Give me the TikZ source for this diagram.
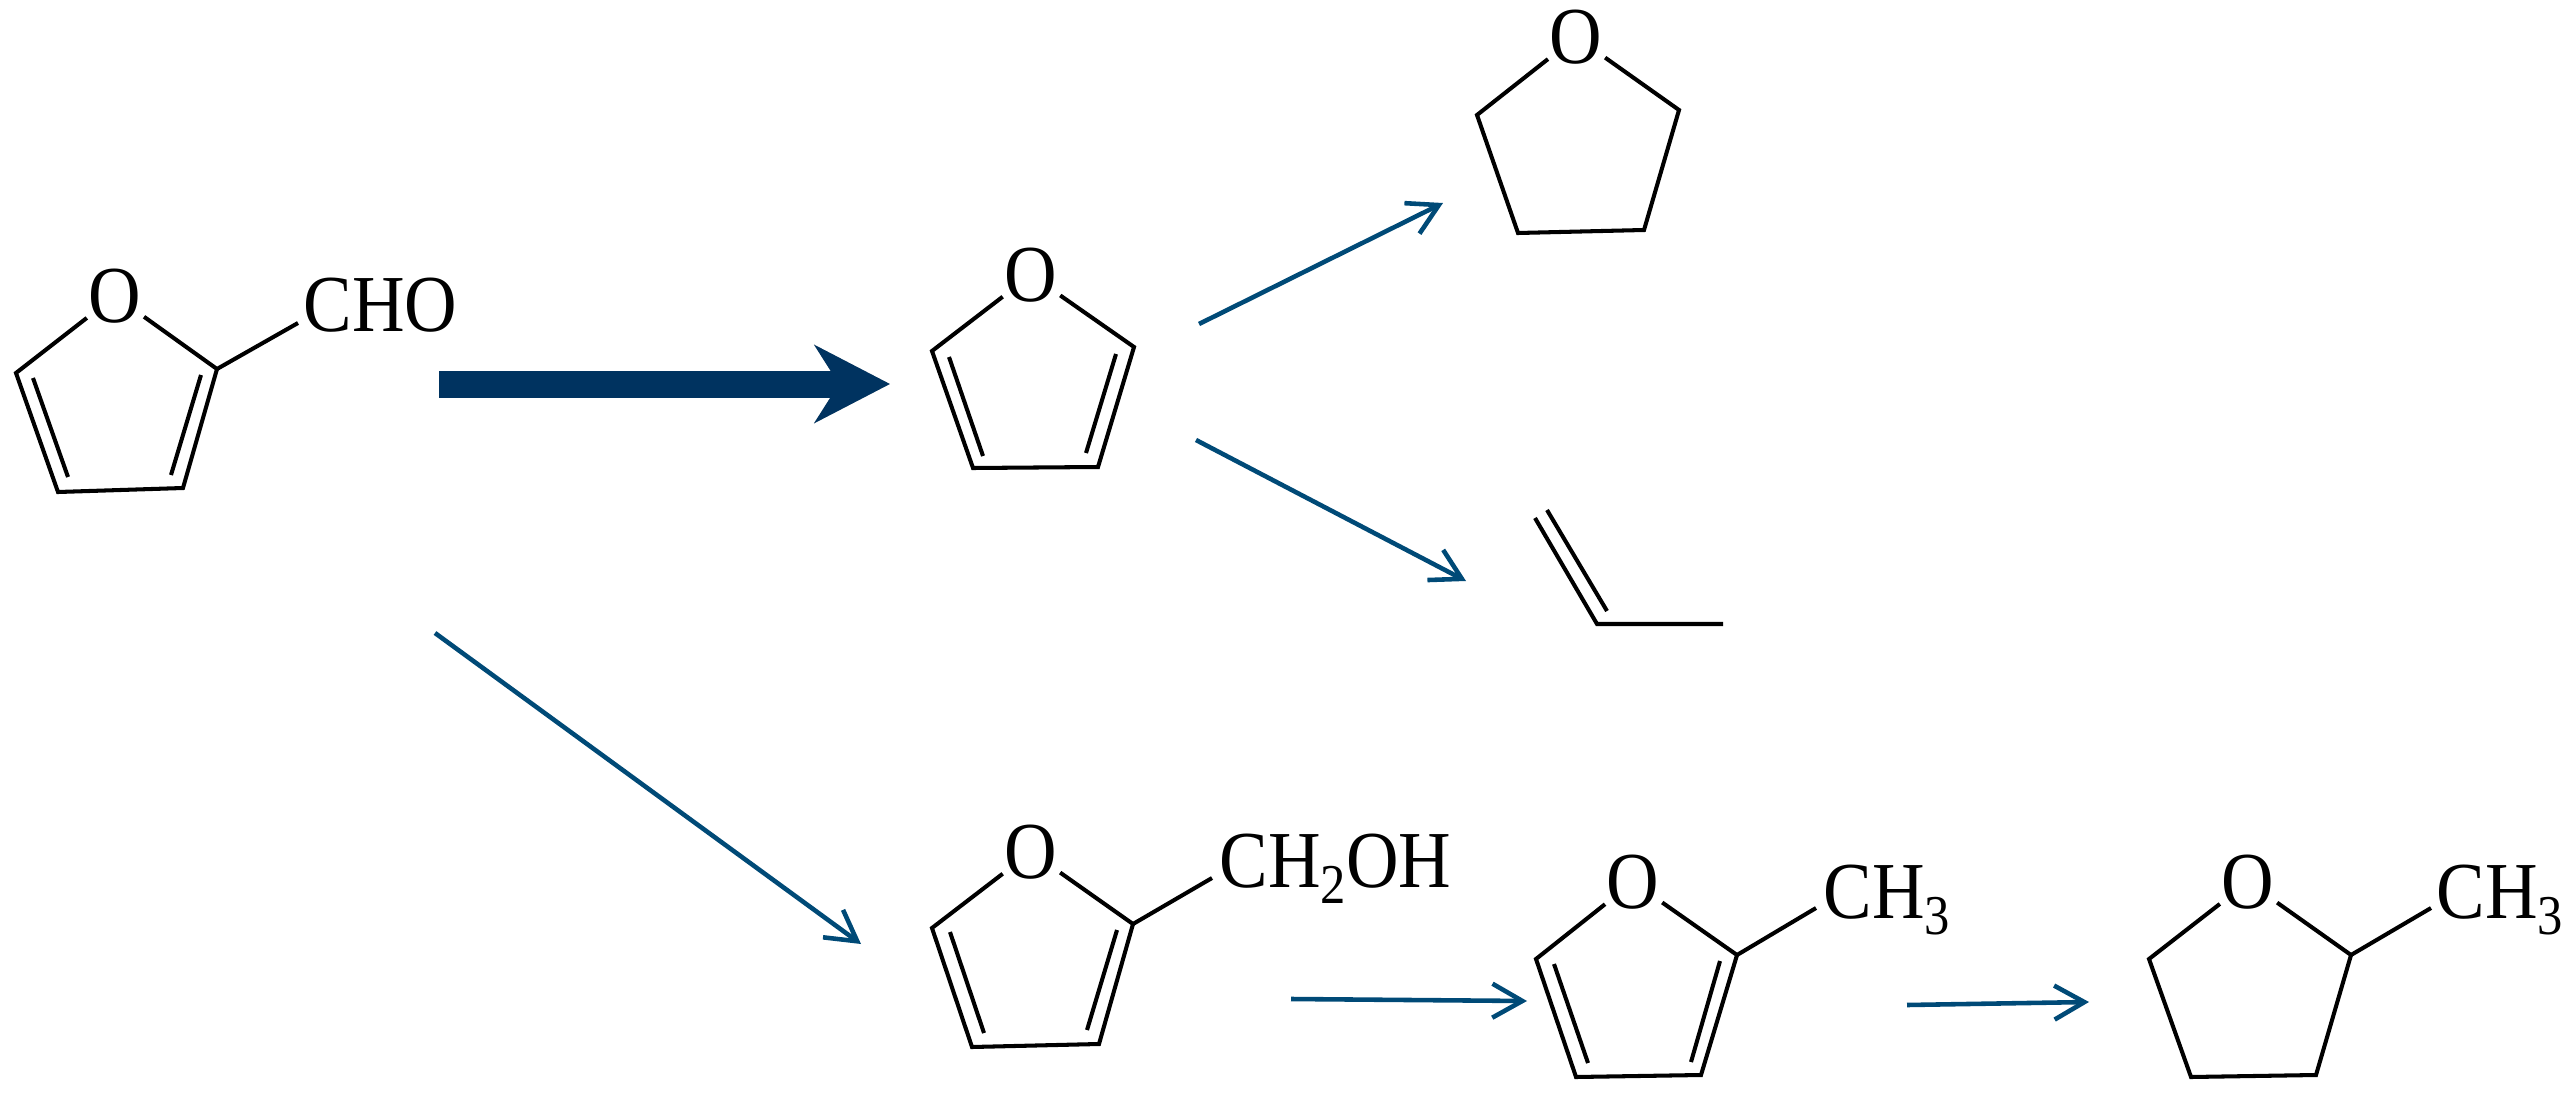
\documentclass[tikz,border=0pt]{standalone}
\usepackage{fontspec}
\setmainfont[FakeStretch=0.9]{Liberation Serif}
\usepackage{xcolor}
\usepackage{tikz}
\usetikzlibrary{arrows.meta}
\definecolor{thinblue}{HTML}{004A77}
\definecolor{thickblue}{HTML}{003360}
\newcommand{\chsub}[1]{\raisebox{-0.21em}{\fontsize{16}{16}\selectfont #1}}

\begin{document}
\begin{tikzpicture}[
	atom/.style={circle, minimum size=0.7cm, inner sep=-1pt, font=\fontsize{23}{27}\selectfont},
	group/.style={anchor=base west, inner sep=0, font=\fontsize{23}{27}\selectfont},
	bond/.style={draw, line width=1.15pt},
	thinarrow/.style={draw=thinblue, line width=1.3pt, -{Straight Barb[length=0.3cm,width=0.34cm]}},
	thickarrow/.style={line width=0.27cm, -{Stealth[length=0.75cm,width=0.77cm,inset=0.24cm]}}
]
\useasboundingbox (0,0) rectangle (25.72,10.93);

\node[atom] (o1) at (1.15,7.97) {O};
\coordinate (a1) at (0.16,7.20);
\coordinate (b1) at (0.58,6.01);
\coordinate (c1) at (1.83,6.05);
\coordinate (d1) at (2.17,7.24);
\coordinate (e1) at (2.98,7.70);
\node[group] (cho) at (3.03,7.62) {CHO};
\draw[bond] (o1) -- (a1) -- (b1) -- (c1) -- (d1) -- (o1);
\draw[bond] (d1) -- (e1);
\draw[bond] (0.33,7.15) -- (0.68,6.16);
\draw[bond] (2.01,7.18) -- (1.71,6.18);

\node[atom] (o2) at (10.31,8.18) {O};
\coordinate (a2) at (9.32,7.42);
\coordinate (b2) at (9.73,6.25);
\coordinate (c2) at (10.98,6.26);
\coordinate (d2) at (11.34,7.46);
\draw[bond] (o2) -- (a2) -- (b2) -- (c2) -- (d2) -- (o2);
\draw[bond] (9.49,7.36) -- (9.83,6.37);
\draw[bond] (11.16,7.39) -- (10.86,6.40);

\node[atom] (o3) at (15.76,10.56) {O};
\coordinate (a3) at (14.77,9.78);
\coordinate (b3) at (15.18,8.60);
\coordinate (c3) at (16.44,8.63);
\coordinate (d3) at (16.79,9.83);
\draw[bond] (o3) -- (a3) -- (b3) -- (c3) -- (d3) -- (o3);

\coordinate (a4) at (15.35,5.75);
\coordinate (b4) at (15.97,4.69);
\coordinate (c4) at (17.23,4.69);
\draw[bond] (a4) -- (b4) -- (c4);
\draw[bond] (15.47,5.83) -- (16.07,4.82);

\node[atom] (o5) at (10.31,2.41) {O};
\coordinate (a5) at (9.32,1.65);
\coordinate (b5) at (9.72,0.46);
\coordinate (c5) at (10.99,0.49);
\coordinate (d5) at (11.33,1.69);
\coordinate (e5) at (12.12,2.15);
\node[group] (ch2oh) at (12.19,2.06) {CH\chsub{2}OH};
\draw[bond] (o5) -- (a5) -- (b5) -- (c5) -- (d5) -- (o5);
\draw[bond] (d5) -- (e5);
\draw[bond] (9.50,1.61) -- (9.84,0.60);
\draw[bond] (11.17,1.63) -- (10.87,0.63);

\node[atom] (o6) at (16.33,2.11) {O};
\coordinate (a6) at (15.36,1.34);
\coordinate (b6) at (15.76,0.16);
\coordinate (c6) at (17.01,0.18);
\coordinate (d6) at (17.37,1.38);
\coordinate (e6) at (18.16,1.85);
\node[group] (ch3a) at (18.23,1.75) {CH\chsub{3}};
\draw[bond] (o6) -- (a6) -- (b6) -- (c6) -- (d6) -- (o6);
\draw[bond] (d6) -- (e6);
\draw[bond] (15.54,1.29) -- (15.88,0.30);
\draw[bond] (17.20,1.32) -- (16.91,0.31);

\node[atom] (o7) at (22.48,2.11) {O};
\coordinate (a7) at (21.49,1.34);
\coordinate (b7) at (21.91,0.16);
\coordinate (c7) at (23.16,0.18);
\coordinate (d7) at (23.51,1.38);
\coordinate (e7) at (24.31,1.85);
\node[group] (ch3b) at (24.36,1.75) {CH\chsub{3}};
\draw[bond] (o7) -- (a7) -- (b7) -- (c7) -- (d7) -- (o7);
\draw[bond] (d7) -- (e7);

\coordinate (s1) at (4.39,7.09);
\coordinate (t1) at (8.90,7.09);
\draw[thickarrow, black!25, shift={(0.01,-0.03)}] (s1) -- (t1);
\draw[thickarrow, thickblue] (s1) -- (t1);

\coordinate (s2) at (11.99,7.69);
\coordinate (t2) at (14.43,8.90);
\draw[thinarrow] (s2) -- (t2);
\coordinate (s3) at (11.96,6.53);
\coordinate (t3) at (14.66,5.12);
\draw[thinarrow] (s3) -- (t3);
\coordinate (s4) at (4.35,4.60);
\coordinate (t4) at (8.61,1.49);
\draw[thinarrow] (s4) -- (t4);
\coordinate (s5) at (12.91,0.94);
\coordinate (t5) at (15.27,0.92);
\draw[thinarrow] (s5) -- (t5);
\coordinate (s6) at (19.07,0.88);
\coordinate (t6) at (20.89,0.91);
\draw[thinarrow] (s6) -- (t6);
\end{tikzpicture}
\end{document}
